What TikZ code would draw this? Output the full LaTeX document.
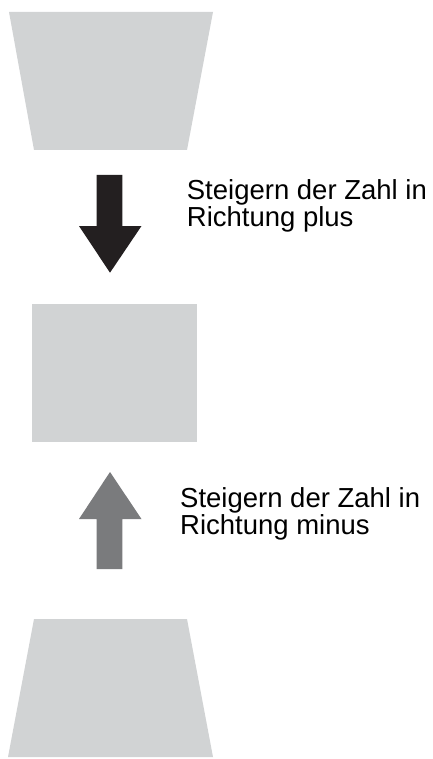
\documentclass[tikz,border=0pt]{standalone}
\usepackage{fontspec}
\setmainfont{Liberation Sans}
\definecolor{panel}{HTML}{D1D3D4}
\definecolor{darkarrow}{HTML}{231F20}
\definecolor{greyarrow}{HTML}{7A7B7D}
\begin{document}
\begin{tikzpicture}[x=1pt,y=-1pt,
  lbl/.style={anchor=north west,inner sep=0pt,align=left,font=\fontsize{27.5}{27}\selectfont,text=black}]
\useasboundingbox (0,0) rectangle (432,759);
% top trapezoid
\fill[panel] (9,12) -- (213,12) -- (187,150) -- (34,150) -- cycle;
% middle rectangle
\fill[panel] (32,304) rectangle (197,442);
% bottom trapezoid
\fill[panel] (34,619) -- (187,619) -- (213,757) -- (8,757) -- cycle;
% down arrow
\fill[darkarrow] (96.7,175) -- (122.3,175) -- (122.3,226) -- (141.5,226) -- (110,272.7) -- (79,226) -- (96.7,226) -- cycle;
% up arrow
\fill[greyarrow] (96.7,569) -- (122.3,569) -- (122.3,519) -- (141.5,519) -- (110,472) -- (79,519) -- (96.7,519) -- cycle;
\node[lbl] (plus) at (186.7,179.3) {Steigern der Zahl in\\Richtung plus};
\node[lbl] (minus) at (180,487.3) {Steigern der Zahl in\\Richtung minus};
\end{tikzpicture}
\end{document}
